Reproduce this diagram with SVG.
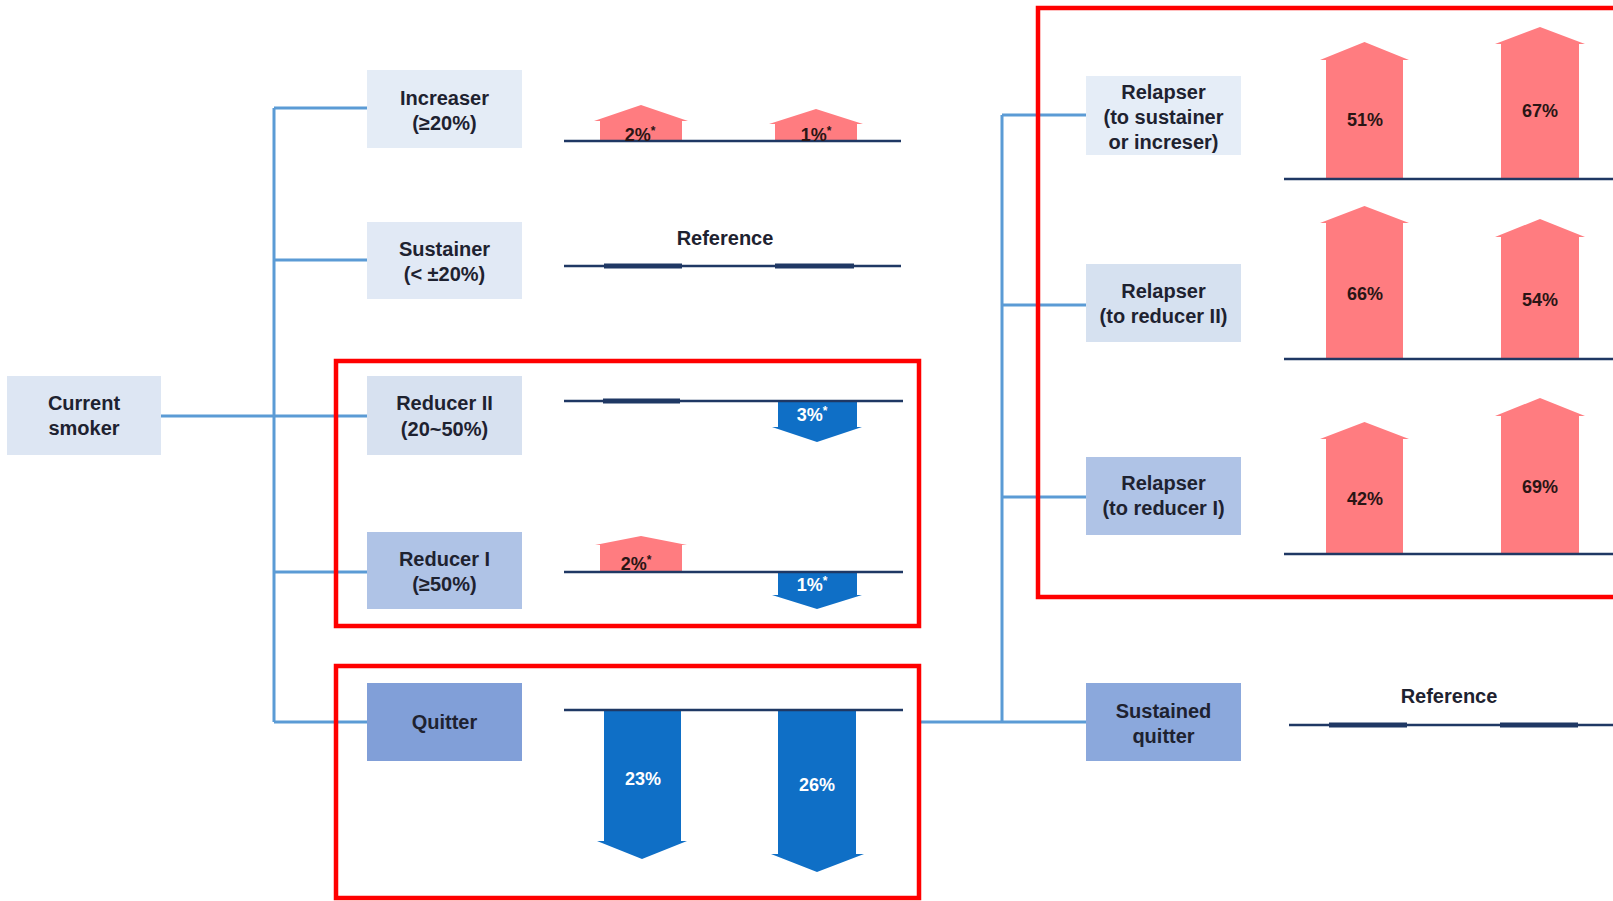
<svg xmlns="http://www.w3.org/2000/svg" width="1613" height="901" viewBox="0 0 1613 901">
<style>
.box{stroke:none}
.lbl{font-family:"Liberation Sans",Arial,sans-serif;font-weight:bold;font-size:20px;fill:#1e2230;text-anchor:middle}
.pct{font-family:"Liberation Sans",Arial,sans-serif;font-weight:bold;font-size:18px;text-anchor:middle}
.dk{fill:#2a1515}
.wt{fill:#ffffff}
.conn{stroke:#5b9bd5;stroke-width:3;fill:none}
.base{stroke:#1f3864;stroke-width:2.5;fill:none}
.thick{stroke:#1f3864;stroke-width:5;fill:none}
.up{fill:#ff7c80}
.down{fill:#0f6fc6}
.red{fill:none;stroke:#ff0000;stroke-width:4.5}
</style>
<rect width="1613" height="901" fill="#ffffff"/>

<g id="connectors">
<path class="conn" d="M161 416 H367"/>
<path class="conn" d="M274 108 V722"/>
<path class="conn" d="M274 108 H367"/>
<path class="conn" d="M274 260 H367"/>
<path class="conn" d="M274 572 H367"/>
<path class="conn" d="M274 722 H367"/>
<path class="conn" d="M919 722 H1086"/>
<path class="conn" d="M1002 115 V722"/>
<path class="conn" d="M1002 115 H1086"/>
<path class="conn" d="M1002 305 H1086"/>
<path class="conn" d="M1002 497 H1086"/>
</g>

<g id="current-smoker">
<rect class="box" x="7" y="376" width="154" height="79" fill="#dde6f3"/>
<text class="lbl" x="84" y="410">Current</text>
<text class="lbl" x="84" y="435">smoker</text>
</g>
<g id="increaser">
<rect class="box" x="367" y="70" width="155" height="78" fill="#e4ecf6"/>
<text class="lbl" x="444.5" y="105">Increaser</text>
<text class="lbl" x="444.5" y="130">(≥20%)</text>
</g>
<g id="sustainer">
<rect class="box" x="367" y="222" width="155" height="77" fill="#e1e9f5"/>
<text class="lbl" x="444.5" y="256">Sustainer</text>
<text class="lbl" x="444.5" y="281">(&lt; ±20%)</text>
</g>
<g id="reducer-ii">
<rect class="box" x="367" y="376" width="155" height="79" fill="#d7e1f0"/>
<text class="lbl" x="444.5" y="410">Reducer II</text>
<text class="lbl" x="444.5" y="436">(20~50%)</text>
</g>
<g id="reducer-i">
<rect class="box" x="367" y="532" width="155" height="77" fill="#afc3e6"/>
<text class="lbl" x="444.5" y="566">Reducer I</text>
<text class="lbl" x="444.5" y="591">(≥50%)</text>
</g>
<g id="quitter">
<rect class="box" x="367" y="683" width="155" height="78" fill="#819fd8"/>
<text class="lbl" x="444.5" y="729">Quitter</text>
</g>
<g id="relapser-1">
<rect class="box" x="1086" y="76" width="155" height="79" fill="#e5edf7"/>
<text class="lbl" x="1163.5" y="99">Relapser</text>
<text class="lbl" x="1163.5" y="124">(to sustainer</text>
<text class="lbl" x="1163.5" y="149">or increser)</text>
</g>
<g id="relapser-2">
<rect class="box" x="1086" y="264" width="155" height="78" fill="#d6e1f0"/>
<text class="lbl" x="1163.5" y="298">Relapser</text>
<text class="lbl" x="1163.5" y="323">(to reducer II)</text>
</g>
<g id="relapser-3">
<rect class="box" x="1086" y="457" width="155" height="78" fill="#afc3e6"/>
<text class="lbl" x="1163.5" y="490">Relapser</text>
<text class="lbl" x="1163.5" y="515">(to reducer I)</text>
</g>
<g id="sustained-quitter">
<rect class="box" x="1086" y="683" width="155" height="78" fill="#8ba8dc"/>
<text class="lbl" x="1163.5" y="718">Sustained</text>
<text class="lbl" x="1163.5" y="743">quitter</text>
</g>

<g id="increaser-bars">
<path class="up" d="M600 141 V121 H594 L641 105 L688 121 H682 V141 Z"/>
<path class="up" d="M775 141 V124 H769 L816 109 L863 124 H857 V141 Z"/>
<path class="base" d="M564 141 H901"/>
<text class="pct dk" x="640" y="141">2%<tspan font-size="12" dy="-6">*</tspan></text>
<text class="pct dk" x="816" y="141">1%<tspan font-size="12" dy="-6">*</tspan></text>
</g>

<g id="sustainer-bars">
<path class="base" d="M564 266 H901"/>
<path class="thick" d="M604 266 H682 M775 266 H854"/>
<text class="lbl" x="725" y="245">Reference</text>
</g>

<g id="reducer-ii-bars">
<path class="down" d="M778 402 V427 H772 L817 442 L862 427 H857 V402 Z"/>
<path class="base" d="M564 401 H903"/>
<path class="thick" d="M603 401 H680"/>
<text class="pct wt" x="812" y="421">3%<tspan font-size="12" dy="-6">*</tspan></text>
</g>

<g id="reducer-i-bars">
<path class="up" d="M600 572 V545 H595 L641 536 L687 545 H682 V572 Z"/>
<path class="down" d="M778 572 V595 H772 L817 609 L862 595 H857 V572 Z"/>
<path class="base" d="M564 572 H903"/>
<text class="pct dk" x="636" y="570">2%<tspan font-size="12" dy="-6">*</tspan></text>
<text class="pct wt" x="812" y="591">1%<tspan font-size="12" dy="-6">*</tspan></text>
</g>

<g id="quitter-bars">
<path class="down" d="M604 710 V841 H597 L642 859 L687 841 H681 V710 Z"/>
<path class="down" d="M778 710 V854 H771 L817 872 L864 854 H856 V710 Z"/>
<path class="base" d="M564 710 H903"/>
<text class="pct wt" x="643" y="785">23%</text>
<text class="pct wt" x="817" y="791">26%</text>
</g>

<g id="relapser-1-bars">
<path class="up" d="M1326 179 V60 H1320 L1364.5 42 L1409 60 H1403 V179 Z"/>
<path class="up" d="M1501 179 V44 H1495 L1540 27 L1585 44 H1579 V179 Z"/>
<path class="base" d="M1284 179 H1613"/>
<text class="pct dk" x="1365" y="126">51%</text>
<text class="pct dk" x="1540" y="117">67%</text>
</g>

<g id="relapser-2-bars">
<path class="up" d="M1326 359 V223 H1320 L1364.5 206 L1409 223 H1403 V359 Z"/>
<path class="up" d="M1501 359 V237 H1495 L1540 219 L1585 237 H1579 V359 Z"/>
<path class="base" d="M1284 359 H1613"/>
<text class="pct dk" x="1365" y="300">66%</text>
<text class="pct dk" x="1540" y="306">54%</text>
</g>

<g id="relapser-3-bars">
<path class="up" d="M1326 554 V439 H1320 L1364.5 422 L1409 439 H1403 V554 Z"/>
<path class="up" d="M1501 554 V416 H1495 L1540 398 L1585 416 H1579 V554 Z"/>
<path class="base" d="M1284 554 H1613"/>
<text class="pct dk" x="1365" y="505">42%</text>
<text class="pct dk" x="1540" y="493">69%</text>
</g>

<g id="sustained-quitter-bars">
<path class="base" d="M1289 725 H1613"/>
<path class="thick" d="M1329 725 H1407 M1500 725 H1578"/>
<text class="lbl" x="1449" y="703">Reference</text>
</g>

<g id="highlights">
<rect class="red" x="336" y="361" width="583" height="265"/>
<rect class="red" x="336" y="666" width="583" height="232"/>
<rect class="red" x="1038" y="8" width="590" height="589"/>
</g>
</svg>
